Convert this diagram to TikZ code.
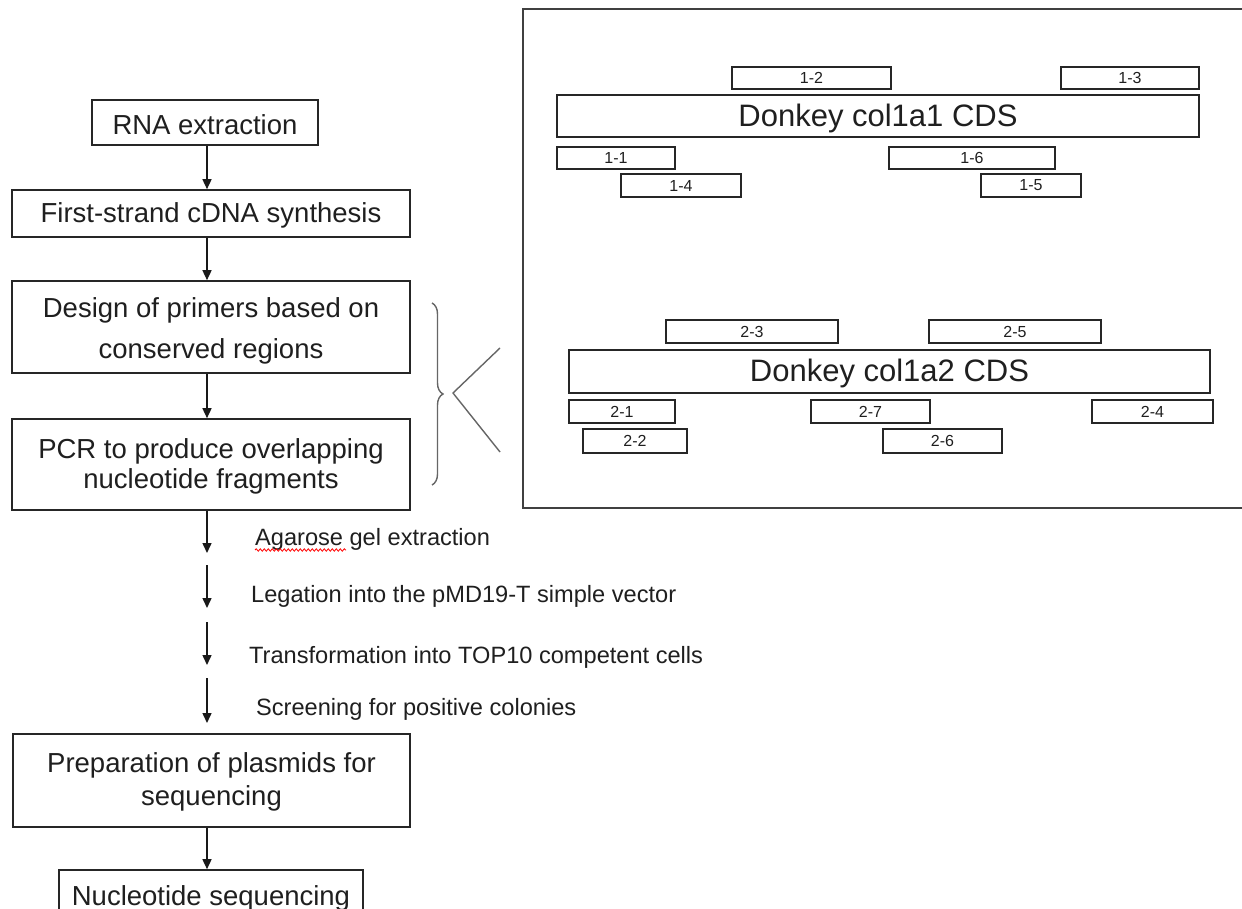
\documentclass[tikz,border=0pt]{standalone}
\usepackage{fontspec}
\setmainfont{Liberation Sans}
\usetikzlibrary{arrows.meta,decorations.pathreplacing,decorations.pathmorphing}
\begin{document}
\begin{tikzpicture}[x=1pt,y=-1pt,
  box/.style={draw=black!85, line width=1.6pt, inner sep=0pt, align=center,
    font=\fontsize{27.5}{33}\selectfont, text=black!88},
  seg/.style={draw=black!85, line width=1.3pt, inner sep=0pt, minimum height=22pt,
    font=\fontsize{16}{18}\selectfont, text=black!88},
  cds/.style={draw=black!85, line width=1.6pt, inner sep=0pt,
    font=\fontsize{31}{36}\selectfont, text=black!88},
  arr/.style={draw=black!90, line width=1.5pt, -{Triangle[width=9pt,length=10pt]}},
  lbl/.style={anchor=base west, inner sep=0pt, font=\fontsize{23.6}{28}\selectfont, text=black!88},
  thin/.style={draw=black!60, line width=1.4pt}]
\useasboundingbox (0,0) rectangle (1242,909);
\clip (0,0) rectangle (1242,909);
\fill[white] (0,0) rectangle (1242,909);

% left flow boxes
\node[box, minimum width=226pt, minimum height=45pt] (rna) at (205,122.5) {\rule{0pt}{24pt}RNA extraction};
\node[box, minimum width=398pt, minimum height=47pt] (first) at (211,213.5) {\rule{0pt}{23pt}First-strand cDNA synthesis};
\node[box, minimum width=398pt, minimum height=92pt] (design) at (211,327) {\rule{0pt}{27pt}Design of primers based on\\[8pt]conserved regions};
\node[box, minimum width=398pt, minimum height=91pt] (pcr) at (211,464.5) {\rule{0pt}{23pt}PCR to produce overlapping\\[-3pt]nucleotide fragments};
\node[box, minimum width=397pt, minimum height=93pt] (prep) at (211.5,780.5) {\rule{0pt}{22pt}Preparation of plasmids for\\sequencing};
\node[box, minimum width=304pt, minimum height=56pt] (nuc) at (211,898) {Nucleotide sequencing};

% arrows
\coordinate (ax) at (207,0);
\draw[arr] (rna.south -| ax) -- (first.north -| ax);
\draw[arr] (first.south -| ax) -- (design.north -| ax);
\draw[arr] (design.south -| ax) -- (pcr.north -| ax);
\coordinate (a1e) at (207,553);
\coordinate (a2s) at (207,565);
\coordinate (a2e) at (207,608);
\coordinate (a3s) at (207,622);
\coordinate (a3e) at (207,665);
\coordinate (a4s) at (207,678);
\coordinate (a4e) at (207,723);
\draw[arr] (pcr.south -| ax) -- (a1e);
\draw[arr] (a2s) -- (a2e);
\draw[arr] (a3s) -- (a3e);
\draw[arr] (a4s) -- (a4e);
\draw[arr] (prep.south -| ax) -- (nuc.north -| ax);

% step labels
\node[lbl] (l1) at (255,545) {Agarose gel extraction};
\draw[red, line width=0.8pt, decorate, decoration={snake, amplitude=1.2pt, segment length=4pt}] (255,550) -- (346,550);
\node[lbl] (l2) at (251,602) {Legation into the pMD19-T simple vector};
\node[lbl] (l3) at (249,663) {Transformation into TOP10 competent cells};
\node[lbl] (l4) at (256,715) {Screening for positive colonies};

% brace and chevron
\draw[thin, decorate, decoration={brace, amplitude=11pt}] (432,303) -- (432,485);
\coordinate (cv1) at (500,348);
\coordinate (cvt) at (453,393);
\coordinate (cv2) at (500,452);
\draw[thin] (cv1) -- (cvt) -- (cv2);

% right frame
\draw[draw=black!75, line width=1.8pt] (523,9) rectangle (1262,508);

% col1a1
\node[cds, minimum width=642pt, minimum height=42pt] (cdsA) at (878,116) {\rule{0pt}{27pt}Donkey col1a1 CDS};
\node[seg, minimum width=159pt] (s12) at (811.5,78) {1-2};
\node[seg, minimum width=138pt] (s13) at (1130,78) {1-3};
\node[seg, minimum width=118pt] (s11) at (616,158) {1-1};
\node[seg, minimum width=166pt] (s16) at (972,158) {1-6};
\node[seg, minimum width=120pt, minimum height=23pt] (s14) at (681,185.5) {1-4};
\node[seg, minimum width=100pt, minimum height=23pt] (s15) at (1031,185.5) {1-5};

% col1a2
\node[cds, minimum width=641pt, minimum height=43pt] (cdsB) at (889.5,371.5) {\rule{0pt}{27pt}Donkey col1a2 CDS};
\node[seg, minimum width=172pt, minimum height=23pt] (s23) at (752,331.5) {2-3};
\node[seg, minimum width=172pt, minimum height=23pt] (s25) at (1015,331.5) {2-5};
\node[seg, minimum width=106pt, minimum height=23pt] (s21) at (622,411.5) {2-1};
\node[seg, minimum width=119pt, minimum height=23pt] (s27) at (870.5,411.5) {2-7};
\node[seg, minimum width=121pt, minimum height=23pt] (s24) at (1152.5,411.5) {2-4};
\node[seg, minimum width=104pt, minimum height=24pt] (s22) at (635,441) {2-2};
\node[seg, minimum width=119pt, minimum height=24pt] (s26) at (942.5,441) {2-6};
\end{tikzpicture}
\end{document}
